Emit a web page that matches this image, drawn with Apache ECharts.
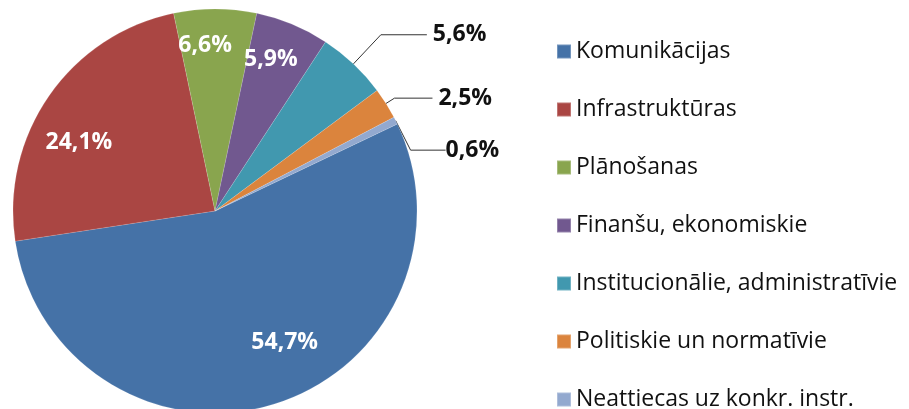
<!DOCTYPE html>
<html>
<head>
<meta charset="utf-8">
<script src="https://cdn.jsdelivr.net/npm/echarts@6/dist/echarts.min.js"></script>
<style>
  html, body { margin: 0; padding: 0; background: #fff; }
  #chart { width: 909px; height: 409px; }
</style>
</head>
<body>
<div id="chart"></div>
<script>
const chartDom = document.getElementById('chart');
const myChart = echarts.init(chartDom);

// categories and shares (%)
let names = ['Komunikācijas', 'Infrastruktūras', 'Plānošanas', 'Finanšu, ekonomiskie',
  'Institucionālie, administratīvie', 'Politiskie un normatīvie', 'Neattiecas uz konkr. instr.'];
let shares = [54.7, 24.1, 6.6, 5.9, 5.6, 2.5, 0.6];
let colors = ['#4572A7', '#AA4643', '#89A54E', '#71588F', '#4198AF', '#DB843D', '#93A9CF'];
// which labels sit inside the slice
let insideLabel = [true, true, true, true, false, false, false];
// leader line lengths for outside labels
let lineLen = [0, 0, 0, 0, 40, 10, 10];
let lineLen2 = [0, 0, 0, 0, 46, 38, 35];

const fmt = function (p) {
  return p.value.toFixed(1).replace('.', ',') + '%';
};

let mainData = names.map(function (n, i) {
  return {
    name: n,
    value: shares[i],
    itemStyle: { color: colors[i] },
    label: { show: !insideLabel[i] },
    labelLine: { show: !insideLabel[i], length: lineLen[i], length2: lineLen2[i] }
  };
});

let labelData = names.map(function (n, i) {
  return {
    name: n,
    value: shares[i],
    label: { show: insideLabel[i] }
  };
});

// small nudges of the inside labels (Excel "best fit" placement)
const insideNudge = {
  0: { dx: 24, dy: -18 },
  1: { dx: -8, dy: 20 },
  2: { dx: -10, dy: -10 },
  3: { dx: -4, dy: -7 }
};

let option = {
  animation: false,
  color: colors,
  legend: {
    orient: 'vertical',
    left: 551,
    top: 35,
    height: 380,
    icon: 'rect',
    itemWidth: 14,
    itemHeight: 14,
    itemGap: 35,
    data: names,
    textStyle: {
      fontFamily: 'Open Sans',
      fontSize: 23,
      lineHeight: 22,
      color: '#111'
    }
  },
  series: [
    {
      name: 'main',
      type: 'pie',
      center: [215, 211],
      radius: [0, 202],
      startAngle: 25.5,
      clockwise: true,
      avoidLabelOverlap: false,
      silent: true,
      itemStyle: { borderColor: 'rgba(255,255,255,0.25)', borderWidth: 0.5 },
      label: {
        position: 'outside',
        formatter: fmt,
        fontFamily: 'Open Sans',
        fontWeight: 'bold',
        fontSize: 23,
        color: '#111',
        distanceToLabelLine: 6
      },
      labelLine: {
        lineStyle: { color: '#333', width: 1 }
      },
      labelLayout: function (params) {
        // the smallest label is pushed below its slice, as in the original
        if (params.dataIndex === 6) {
          return { y: params.labelRect.y + params.labelRect.height / 2 + 34 };
        }
        return {};
      },
      data: mainData
    },
    {
      name: 'labels',
      type: 'pie',
      center: [215, 211],
      radius: [104, 202],
      startAngle: 25.5,
      clockwise: true,
      silent: true,
      itemStyle: { color: 'rgba(0,0,0,0)' },
      label: {
        position: 'inside',
        formatter: fmt,
        fontFamily: 'Open Sans',
        fontWeight: 'bold',
        fontSize: 23,
        color: '#fff'
      },
      labelLine: { show: false },
      labelLayout: function (params) {
        return insideNudge[params.dataIndex] || {};
      },
      data: labelData
    }
  ]
};

myChart.setOption(option);
</script>
</body>
</html>
